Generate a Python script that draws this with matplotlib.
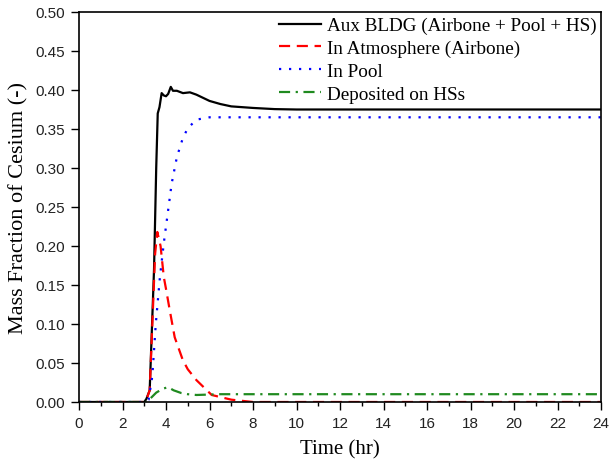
import matplotlib
matplotlib.use("Agg")
import matplotlib.pyplot as plt
from matplotlib.ticker import MultipleLocator, FormatStrFormatter

# Data (time in hr, mass fraction)
t_aux = [0, 3.0, 3.1, 3.25, 3.45, 3.55, 3.62, 3.7, 3.8, 3.9, 4.0, 4.1, 4.22, 4.32, 4.5, 4.78, 5.1, 5.4, 5.7, 6.0, 6.5, 7.0, 7.5, 8.0, 9.0, 10.0, 24.0]
v_aux = [0, 0, 0.004, 0.015, 0.17, 0.30, 0.370, 0.378, 0.396, 0.393, 0.392, 0.395, 0.404, 0.399, 0.399, 0.396, 0.397, 0.394, 0.390, 0.386, 0.382, 0.379, 0.378, 0.377, 0.3755, 0.375, 0.375]

t_atm = [0, 3.0, 3.1, 3.25, 3.4, 3.5, 3.6, 3.75, 3.9, 4.0, 4.17, 4.4, 4.77, 5.0, 5.4, 6.1, 7.0, 8.0, 24.0]
v_atm = [0, 0, 0.003, 0.015, 0.12, 0.19, 0.218, 0.200, 0.160, 0.145, 0.118, 0.083, 0.054, 0.042, 0.028, 0.009, 0.003, 0, 0]

t_pool = [0, 3.0, 3.2, 3.37, 3.53, 3.72, 3.9, 4.08, 4.26, 4.5, 4.77, 5.0, 5.4, 6.0, 24.0]
v_pool = [0, 0, 0.003, 0.033, 0.100, 0.160, 0.204, 0.242, 0.280, 0.314, 0.338, 0.351, 0.362, 0.365, 0.365]

t_hs = [0, 3.1, 3.3, 3.55, 3.85, 4.1, 4.35, 4.7, 5.0, 5.4, 6.5, 8.0, 24.0]
v_hs = [0, 0, 0.005, 0.012, 0.017, 0.019, 0.015, 0.0115, 0.010, 0.009, 0.010, 0.010, 0.010]

labels = ["Aux BLDG (Airbone + Pool + HS)", "In Atmosphere (Airbone)", "In Pool", "Deposited on HSs"]

serif = ["Liberation Serif", "DejaVu Serif"]
sans = ["Liberation Sans", "DejaVu Sans"]

fig = plt.figure(figsize=(6.09, 4.64), dpi=100)
ax = fig.add_axes([79/609, 1-403/464, (601-79)/609, (403-13)/464])

ax.plot(t_aux, v_aux, color="black", lw=1.6, label=labels[0])
ax.plot(t_atm, v_atm, color="#ff0000", lw=1.6, dashes=(5, 3), label=labels[1])
ax.plot(t_pool, v_pool, color="#0000ff", lw=1.6, dashes=(1, 3.5), label=labels[2])
ax.plot(t_hs, v_hs, color="#1f8a1f", lw=1.6, dashes=(5, 2.5, 1, 2.5), label=labels[3])

ax.set_xlim(0, 24)
ax.set_ylim(0, 0.5)
ax.xaxis.set_major_locator(MultipleLocator(2))
ax.xaxis.set_minor_locator(MultipleLocator(1))
ax.yaxis.set_major_locator(MultipleLocator(0.05))
ax.yaxis.set_major_formatter(FormatStrFormatter("%.2f"))
ax.tick_params(which="major", direction="out", length=6, width=1, labelsize=11, pad=4)
ax.tick_params(which="minor", direction="out", length=3, width=1)
for lab in ax.get_xticklabels() + ax.get_yticklabels():
    lab.set_family(sans)
    lab.set_color("#222222")
for s in ax.spines.values():
    s.set_linewidth(1.2)

ax.set_xlabel("Time (hr)", family=serif, fontsize=15, labelpad=7)
ax.set_ylabel("Mass Fraction of Cesium (-)", family=serif, fontsize=16, labelpad=5)

leg = ax.legend(loc="upper right", frameon=False, prop={"family": serif, "size": 13.8},
                handlelength=2.2, handletextpad=0.3, labelspacing=0.28,
                borderaxespad=0.15, borderpad=0.1)

fig.savefig("out.png", dpi=100)
